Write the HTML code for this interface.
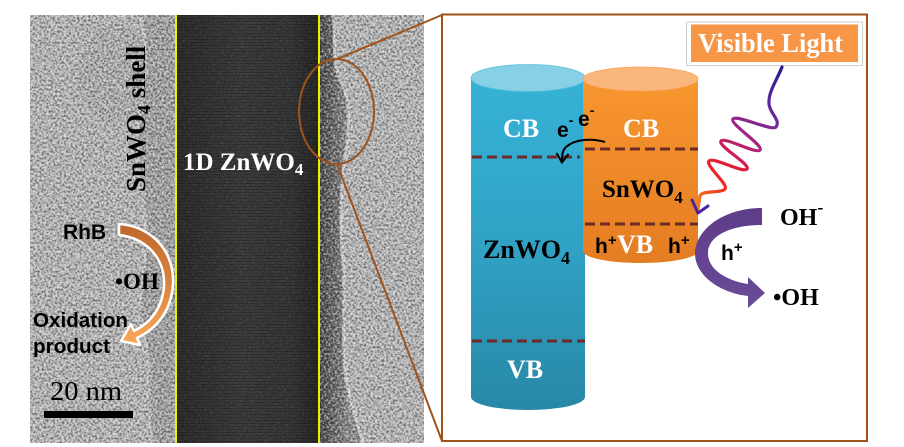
<!DOCTYPE html>
<html><head><meta charset="utf-8"><style>
html,body{margin:0;padding:0;background:#fff;width:904px;height:447px;overflow:hidden}
svg{display:block}
</style></head><body>
<svg width="904" height="447" viewBox="0 0 904 447" xmlns="http://www.w3.org/2000/svg">
<defs>
  <filter id="nw" filterUnits="userSpaceOnUse" x="30" y="15" width="394" height="428">
    <feTurbulence type="fractalNoise" baseFrequency="0.45" numOctaves="2" seed="7"/>
    <feColorMatrix type="matrix" values="0 0 0 0 1  0 0 0 0 1  0 0 0 0 1  4 0 0 0 -2"/>
  </filter>
  <filter id="nb" filterUnits="userSpaceOnUse" x="30" y="15" width="394" height="428">
    <feTurbulence type="fractalNoise" baseFrequency="0.45" numOctaves="2" seed="7"/>
    <feColorMatrix type="matrix" values="0 0 0 0 0  0 0 0 0 0  0 0 0 0 0  -4 0 0 0 2"/>
  </filter>
  <linearGradient id="core" x1="0" y1="0" x2="1" y2="0">
    <stop offset="0" stop-color="#2a2a2a"/>
    <stop offset="0.45" stop-color="#383838"/>
    <stop offset="0.8" stop-color="#333333"/>
    <stop offset="1" stop-color="#242424"/>
  </linearGradient>
  <linearGradient id="fringe" x1="319" y1="0" x2="350" y2="0" gradientUnits="userSpaceOnUse">
    <stop offset="0" stop-color="#474747"/>
    <stop offset="0.5" stop-color="#6a6a6a"/>
    <stop offset="1" stop-color="#8f8f8f"/>
  </linearGradient>
  <pattern id="stripes" width="6" height="3" patternUnits="userSpaceOnUse">
    <rect width="6" height="1" fill="#000" opacity="0.2"/>
  </pattern>
  <linearGradient id="la" x1="0" y1="224" x2="0" y2="345" gradientUnits="userSpaceOnUse">
    <stop offset="0" stop-color="#bd672c"/>
    <stop offset="0.5" stop-color="#dc843f"/>
    <stop offset="1" stop-color="#f8a85a"/>
  </linearGradient>
  <linearGradient id="blue" x1="0" y1="78" x2="0" y2="410" gradientUnits="userSpaceOnUse">
    <stop offset="0" stop-color="#36b2d7"/>
    <stop offset="0.5" stop-color="#30a2c5"/>
    <stop offset="1" stop-color="#2888a6"/>
  </linearGradient>
  <linearGradient id="orange" x1="0" y1="79" x2="0" y2="263" gradientUnits="userSpaceOnUse">
    <stop offset="0" stop-color="#f8962f"/>
    <stop offset="1" stop-color="#e47d22"/>
  </linearGradient>
  <linearGradient id="wave" x1="782" y1="67" x2="700" y2="200" gradientUnits="userSpaceOnUse">
    <stop offset="0" stop-color="#241a92"/>
    <stop offset="0.3" stop-color="#6a2a9e"/>
    <stop offset="0.5" stop-color="#a62482"/>
    <stop offset="0.7" stop-color="#e01e3a"/>
    <stop offset="0.85" stop-color="#f02a20"/>
    <stop offset="1" stop-color="#f47a20"/>
  </linearGradient>
  <linearGradient id="purp" x1="0" y1="208" x2="0" y2="308" gradientUnits="userSpaceOnUse">
    <stop offset="0" stop-color="#5d3c88"/>
    <stop offset="1" stop-color="#6a4b98"/>
  </linearGradient>
</defs>

<!-- TEM image -->
<rect x="30" y="15" width="394" height="428" fill="#b4b4b4"/>
<ellipse cx="115" cy="75" rx="38" ry="48" fill="#9c9c9c" opacity="0.3"/>
<path d="M140,15 L176,15 L176,443 L152,443 C146,405 154,365 142,330 C135,300 150,262 146,222 C141,182 134,150 140,112 C145,80 150,48 140,15 Z" fill="#a0a0a0"/>
<path d="M140,15 C150,48 145,80 140,112 C134,150 141,182 146,222 C150,262 135,300 142,330 C154,365 146,405 152,443" fill="none" stroke="#d4d4d4" stroke-width="3" opacity="0.5"/>
<path d="M319,15 L333,15 C336,40 331,62 341,82 C351,102 349,130 346,150 C341,182 339,222 343,262 C346,302 341,342 346,380 C351,410 360,430 363,443 L319,443 Z" fill="url(#fringe)"/>
<path d="M333,15 C336,40 331,62 341,82 C351,102 349,130 346,150 C341,182 339,222 343,262 C346,302 341,342 346,380 C351,410 360,430 363,443" fill="none" stroke="#dcdcdc" stroke-width="3" opacity="0.7"/>
<rect x="30" y="15" width="147" height="428" filter="url(#nw)" opacity="0.28"/>
<rect x="30" y="15" width="147" height="428" filter="url(#nb)" opacity="0.22"/>
<rect x="319" y="15" width="105" height="428" filter="url(#nw)" opacity="0.28"/>
<rect x="319" y="15" width="105" height="428" filter="url(#nb)" opacity="0.22"/>
<rect x="177" y="15" width="142" height="428" fill="url(#core)"/>
<rect x="177" y="15" width="142" height="428" fill="url(#stripes)"/>
<rect x="177" y="15" width="142" height="428" filter="url(#nw)" opacity="0.08"/>
<line x1="176" y1="15" x2="176" y2="443" stroke="#eef000" stroke-width="2"/>
<line x1="319" y1="15" x2="319" y2="443" stroke="#eef000" stroke-width="2"/>

<!-- TEM labels -->
<text transform="translate(145,192) rotate(-90)" font-family="Liberation Serif, serif" font-weight="bold" font-size="27" fill="#000">SnWO<tspan font-size="18" dy="5">4</tspan><tspan dy="-5"> shell</tspan></text>
<text x="183" y="170" font-family="Liberation Serif, serif" font-weight="bold" font-size="25" fill="#fff">1D ZnWO<tspan font-size="17" dy="5">4</tspan></text>
<path d="M119,224 C152,226 175,252 173,285 C171,310 158,328 137,338 L140,345 L121,341 L131,324 L134,331 C152,322 163,306 164,285 C165,258 146,238 119,235 Z" fill="url(#la)" stroke="#fff" stroke-width="2.5" stroke-linejoin="round"/>
<text x="63" y="239" font-family="Liberation Sans, sans-serif" font-weight="bold" font-size="21" fill="#000">RhB</text>
<text x="115" y="289" font-family="Liberation Serif, serif" font-weight="bold" font-size="23" fill="#000">•OH</text>
<text x="33" y="327" font-family="Liberation Sans, sans-serif" font-weight="bold" font-size="20.5" fill="#000" textLength="95" lengthAdjust="spacingAndGlyphs">Oxidation</text>
<text x="33" y="353" font-family="Liberation Sans, sans-serif" font-weight="bold" font-size="20.5" fill="#000" textLength="77" lengthAdjust="spacingAndGlyphs">product</text>
<text x="50" y="400" font-family="Liberation Serif, serif" font-size="27" fill="#000" textLength="72" lengthAdjust="spacingAndGlyphs">20 nm</text>
<rect x="44" y="411" width="89" height="7" fill="#000"/>

<!-- zoom ellipse and connector lines -->
<ellipse cx="336.5" cy="111.5" rx="37.5" ry="52.5" fill="none" stroke="#9e531b" stroke-width="2"/>
<line x1="337" y1="59" x2="442" y2="15" stroke="#9e531b" stroke-width="2"/>
<line x1="337" y1="164" x2="442" y2="441" stroke="#9e531b" stroke-width="2"/>
<rect x="442" y="14.5" width="425" height="426.5" fill="#fff" stroke="#9e531b" stroke-width="2"/>

<!-- Blue cylinder -->
<path d="M471,78 L471,397 A57,13 0 0 0 585,397 L585,78 Z" fill="url(#blue)"/>
<ellipse cx="528" cy="78" rx="57" ry="13.5" fill="#86d1e6" stroke="#5ebdd9" stroke-width="0.8"/>
<!-- Orange cylinder -->
<path d="M583,79 L583,251 A57.5,12 0 0 0 698,251 L698,79 Z" fill="url(#orange)"/>
<ellipse cx="640.5" cy="79" rx="57.5" ry="12" fill="#fbb67c" stroke="#f6a35a" stroke-width="0.8"/>

<!-- dashed band edges -->
<g stroke="#6e2a2a" stroke-width="3" stroke-dasharray="10 5" fill="none">
  <line x1="472" y1="157" x2="580" y2="157"/>
  <line x1="585" y1="149" x2="698" y2="149"/>
  <line x1="585" y1="224" x2="698" y2="224"/>
  <line x1="472" y1="341" x2="585" y2="341"/>
</g>

<!-- cylinder labels -->
<g font-family="Liberation Serif, serif" font-weight="bold" font-size="26">
  <text x="503" y="137" fill="#fff">CB</text>
  <text x="623" y="137" fill="#fff">CB</text>
  <text x="617" y="253" fill="#fff">VB</text>
  <text x="507" y="378" fill="#fff">VB</text>
  <text x="602" y="197" fill="#000" font-size="25">SnWO<tspan font-size="17" dy="6">4</tspan></text>
  <text x="483" y="258" fill="#000">ZnWO<tspan font-size="18" dy="6">4</tspan></text>
</g>
<g font-family="Liberation Sans, sans-serif" font-weight="bold" fill="#000">
  <text x="557" y="137" font-size="21">e<tspan font-size="14" dy="-12">-</tspan></text>
  <text x="578" y="126" font-size="21">e<tspan font-size="14" dy="-11">-</tspan></text>
  <text x="595" y="253" font-size="21">h<tspan font-size="15" dy="-8">+</tspan></text>
  <text x="668" y="253" font-size="21">h<tspan font-size="15" dy="-8">+</tspan></text>
  <text x="721" y="260" font-size="21">h<tspan font-size="15" dy="-8">+</tspan></text>
</g>

<!-- electron transfer arrow -->
<path d="M605,142 C592,138 575,139 566,147 C562,151 562,156 562,161" fill="none" stroke="#000" stroke-width="2"/>
<path d="M556.5,153 L562,162.5 L568.5,154" fill="none" stroke="#000" stroke-width="2"/>

<!-- Visible light box -->
<rect x="686.5" y="22" width="176" height="43.5" fill="#fff" stroke="#cfcfcf" stroke-width="1"/>
<rect x="691" y="24.5" width="167" height="37.5" fill="#f79646"/>
<text x="698" y="52" font-family="Liberation Serif, serif" font-weight="bold" font-size="27" fill="#fff" textLength="145" lengthAdjust="spacingAndGlyphs">Visible Light</text>

<!-- light wave -->
<path d="M782,67 C777,80 768,92 769,104 C770,114 781,120 776,127 C772.1,131.6 736.9,114.4 733,119 C729.1,123.6 763.9,145.4 760,150 C756.1,154.6 724.9,136.4 721,141 C717.1,145.6 750.9,164.4 747,169 C743.1,173.6 712.9,156.4 709,161 C705.1,165.6 728.9,184.4 725,189 C721.1,193.6 701,190 700,196 L698,209" fill="none" stroke="url(#wave)" stroke-width="3.2" stroke-linecap="round" stroke-linejoin="round"/>
<path d="M692,200 L698,213 L708,206" fill="none" stroke="#4a22a6" stroke-width="3" stroke-linecap="round" stroke-linejoin="round"/>

<!-- purple oxidation arrow -->
<path d="M762,208 C725,208 697,228 695,252 C694,275 720,293 748,296 L748,308 L765,293 L748,277 L748,284 C728,281 707,270 708,252 C709,236 730,225 762,225 Z" fill="url(#purp)"/>
<text x="780" y="225" font-family="Liberation Serif, serif" font-weight="bold" font-size="24" fill="#000">OH<tspan font-size="18" dy="-12">-</tspan></text>
<text x="773" y="305" font-family="Liberation Serif, serif" font-weight="bold" font-size="24" fill="#000">•OH</text>
</svg>
</body></html>
